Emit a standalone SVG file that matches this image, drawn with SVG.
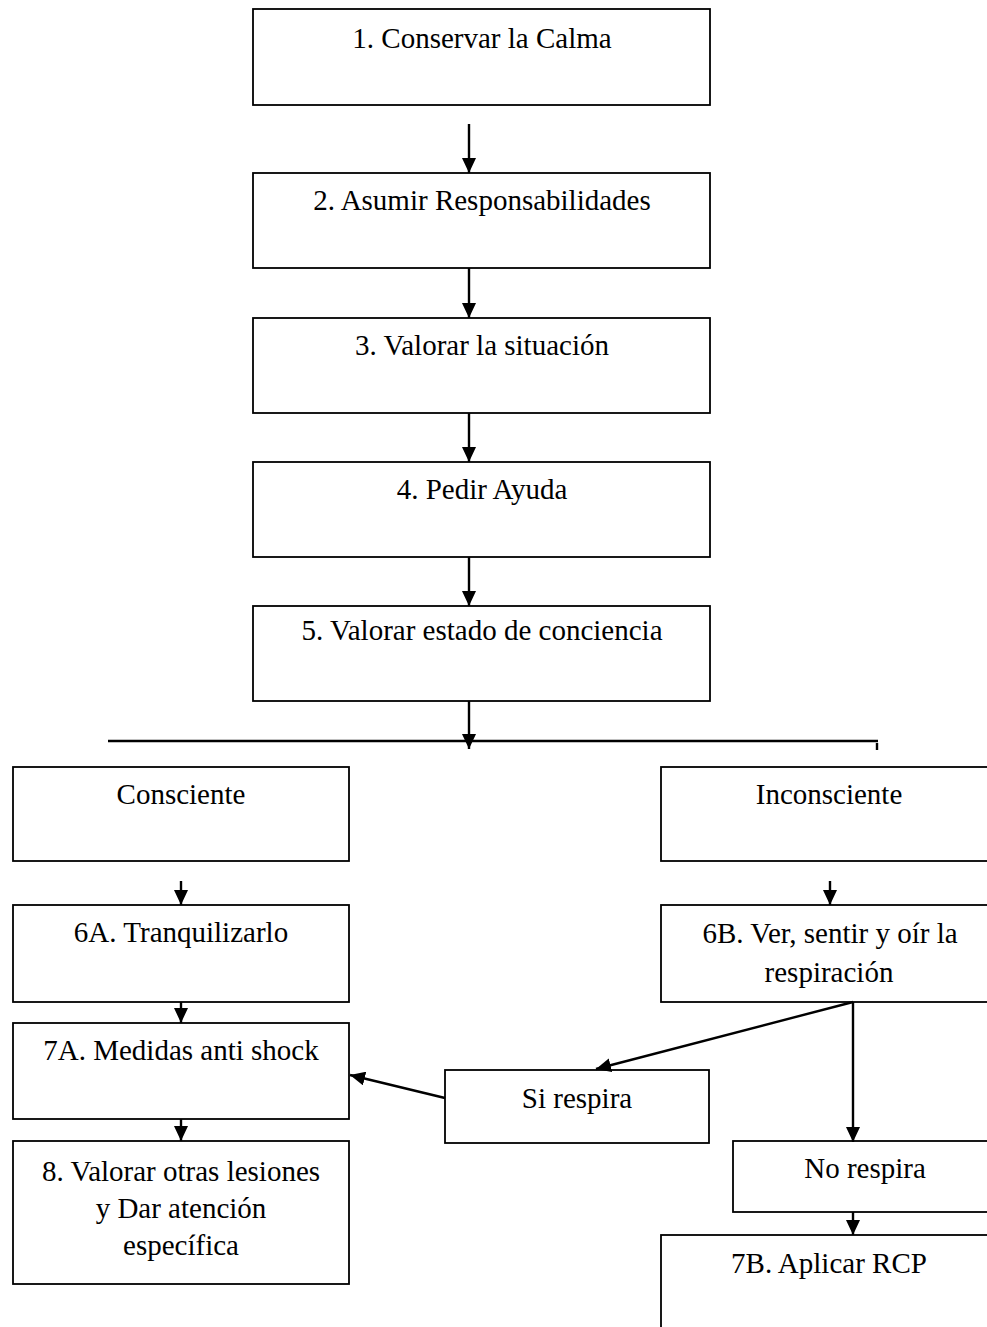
<svg xmlns="http://www.w3.org/2000/svg" width="987" height="1327" viewBox="0 0 987 1327">
<defs>
<marker id="ah" viewBox="0 0 15 14" refX="15" refY="7" markerWidth="15" markerHeight="14" markerUnits="userSpaceOnUse" orient="auto">
<path d="M0,0 L15,7 L0,14 z" fill="#000"/>
</marker>
<style>
.b{fill:#fff;stroke:#000;stroke-width:1.8}
.t{font-family:"Liberation Serif","Times New Roman",serif;font-size:29px;fill:#000;text-anchor:middle}
.c{stroke:#000;stroke-width:2.4;fill:none}
.a{marker-end:url(#ah)}
</style>
</defs>
<rect width="987" height="1327" fill="#fff"/>
<g id="n1"><rect class="b" x="253" y="9" width="457" height="96"/><text class="t" x="482" y="48">1. Conservar la Calma</text></g>
<g id="n2"><rect class="b" x="253" y="173" width="457" height="95"/><text class="t" x="482" y="210">2. Asumir Responsabilidades</text></g>
<g id="n3"><rect class="b" x="253" y="318" width="457" height="95"/><text class="t" x="482" y="355">3. Valorar la situación</text></g>
<g id="n4"><rect class="b" x="253" y="462" width="457" height="95"/><text class="t" x="482" y="499">4. Pedir Ayuda</text></g>
<g id="n5"><rect class="b" x="253" y="606" width="457" height="95"/><text class="t" x="482" y="640">5. Valorar estado de conciencia</text></g>
<g id="consciente"><rect class="b" x="13" y="767" width="336" height="94"/><text class="t" x="181" y="804">Consciente</text></g>
<g id="inconsciente"><rect class="b" x="661" y="767" width="340" height="94"/><text class="t" x="829" y="804">Inconsciente</text></g>
<g id="n6a"><rect class="b" x="13" y="905" width="336" height="97"/><text class="t" x="181" y="942">6A. Tranquilizarlo</text></g>
<g id="n7a"><rect class="b" x="13" y="1023" width="336" height="96"/><text class="t" x="181" y="1060">7A. Medidas anti shock</text></g>
<g id="n8"><rect class="b" x="13" y="1141" width="336" height="143"/><text class="t" x="181" y="1181">8. Valorar otras lesiones</text><text class="t" x="181" y="1218">y Dar atención</text><text class="t" x="181" y="1255">específica</text></g>
<g id="n6b"><rect class="b" x="661" y="905" width="340" height="97"/><text class="t" x="830" y="943">6B. Ver, sentir y oír la</text><text class="t" x="829" y="982">respiración</text></g>
<g id="sirespira"><rect class="b" x="445" y="1070" width="264" height="73"/><text class="t" x="577" y="1108">Si respira</text></g>
<g id="norespira"><rect class="b" x="733" y="1141" width="268" height="71"/><text class="t" x="865" y="1178">No respira</text></g>
<g id="n7b"><rect class="b" x="661" y="1235" width="340" height="110"/><text class="t" x="829" y="1273">7B. Aplicar RCP</text></g>
<g id="connectors">
<line class="c a" x1="469" y1="124" x2="469" y2="173"/>
<line class="c a" x1="469" y1="268" x2="469" y2="318"/>
<line class="c a" x1="469" y1="413" x2="469" y2="462"/>
<line class="c a" x1="469" y1="557" x2="469" y2="606"/>
<line class="c a" x1="469" y1="701" x2="469" y2="749"/>
<line class="c" x1="108" y1="741" x2="878" y2="741"/>
<line class="c" x1="877" y1="743" x2="877" y2="750" stroke-width="1.2"/>
<line class="c a" x1="181" y1="881" x2="181" y2="905"/>
<line class="c a" x1="181" y1="1002" x2="181" y2="1023"/>
<line class="c a" x1="181" y1="1119" x2="181" y2="1141"/>
<line class="c a" x1="830" y1="881" x2="830" y2="905"/>
<line class="c a" x1="853" y1="1002" x2="596" y2="1069"/>
<line class="c a" x1="853" y1="1002" x2="853" y2="1142"/>
<line class="c a" x1="445" y1="1098" x2="350" y2="1075"/>
<line class="c a" x1="853" y1="1212" x2="853" y2="1235"/>
</g>
</svg>
